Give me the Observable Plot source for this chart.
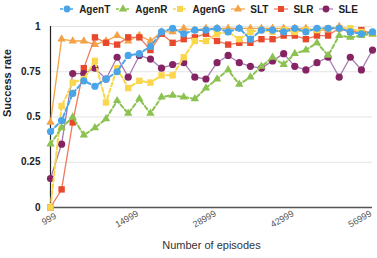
<!DOCTYPE html>
<html>
<head>
<meta charset="utf-8">
<script src="https://cdn.jsdelivr.net/npm/d3@7"></script>
<script src="https://cdn.jsdelivr.net/npm/@observablehq/plot@0.6"></script>
<style>
  body { margin: 0; background: #fff; font-family: "Liberation Sans", Arial, sans-serif; }
  #wrap { width: 377px; height: 258px; overflow: hidden; background: #fff; }
  #legend { width: 377px; height: 18px; box-sizing: border-box; padding-left: 40px;
            display: flex; justify-content: center; align-items: center; gap: 5px; }
  .item { display: flex; align-items: center; height: 16px; font-weight: bold; font-size: 10px; color: #222; }
  .item svg { margin-right: 4px; }
</style>
</head>
<body>
<div id="wrap">
  <div id="legend"></div>
  <div id="chart"></div>
</div>
<script>
// Training episodes at which success rate was measured
const episodes = [999, 2999, 4999, 6999, 8999, 10999, 12999, 14999, 16999, 18999,
                  20999, 22999, 24999, 26999, 28999, 30999, 32999, 34999, 36999, 38999,
                  40999, 42999, 44999, 46999, 48999, 50999, 52999, 54999, 56999, 58999];

const agenT = [0.42, 0.48, 0.63, 0.70, 0.67, 0.71, 0.75, 0.84, 0.85, 0.89,
               0.97, 0.99, 0.96, 0.98, 0.98, 0.99, 0.97, 0.99, 0.93, 0.98,
               0.98, 0.97, 0.99, 0.97, 0.99, 0.99, 0.99, 0.97, 0.96, 0.97];
const agenR = [0.35, 0.44, 0.50, 0.40, 0.44, 0.49, 0.59, 0.52, 0.60, 0.52,
               0.61, 0.62, 0.61, 0.60, 0.66, 0.71, 0.76, 0.68, 0.72, 0.78,
               0.83, 0.79, 0.85, 0.87, 0.91, 0.84, 0.95, 0.94, 0.95, 0.96];
const agenG = [0.00, 0.56, 0.69, 0.71, 0.81, 0.58, 0.77, 0.66, 0.70, 0.69,
               0.73, 0.73, 0.83, 0.92, 0.92, 0.96, 0.97, 0.93, 0.97, 0.98,
               0.97, 0.98, 0.97, 0.98, 0.98, 0.99, 0.99, 0.99, 0.97, 0.96];
const slT   = [0.47, 0.93, 0.92, 0.92, 0.90, 0.92, 0.95, 0.92, 0.95, 0.92,
               0.97, 0.97, 0.99, 0.98, 0.99, 0.99, 0.99, 0.99, 0.99, 0.99,
               0.99, 0.99, 0.99, 0.99, 0.98, 0.98, 1.00, 0.98, 0.97, 0.96];
const slR   = [0.00, 0.10, 0.47, 0.77, 0.94, 0.91, 0.90, 0.94, 0.94, 0.87,
               0.96, 0.91, 0.93, 0.94, 0.96, 0.92, 0.90, 0.91, 0.91, 0.93,
               0.93, 0.95, 0.95, 0.93, 0.95, 0.95, 0.99, 0.97, 0.98, 0.96];
const slE   = [0.16, 0.35, 0.74, 0.74, 0.77, 0.71, 0.83, 0.72, 0.84, 0.82,
               0.77, 0.79, 0.80, 0.72, 0.71, 0.80, 0.84, 0.80, 0.78, 0.77,
               0.81, 0.85, 0.78, 0.76, 0.80, 0.83, 0.72, 0.83, 0.76, 0.87];

const seriesNames = ["AgenT", "AgenR", "AgenG", "SLT", "SLR", "SLE"];
const xTicks = [999, 14999, 28999, 42999, 56999];
const yTicks = [0, 0.25, 0.5, 0.75, 1];

// Visual style per series
const styles = {
  AgenT: {values: agenT, color: "#4aa5e8", symbol: "circle",   dash: "4,2.5", width: 2, r: 3.6},
  AgenR: {values: agenR, color: "#8cc251", symbol: "triangle", dash: "4,2.5", width: 2, r: 3.1},
  AgenG: {values: agenG, color: "#f9d64c", symbol: "square",   dash: "4,2.5", width: 2, r: 3.6},
  SLT:   {values: slT,   color: "#f5a145", symbol: "triangle", dash: null,    width: 1.3, r: 3.1},
  SLR:   {values: slR,   color: "#e8482c", symbol: "square",   dash: null,    width: 1.3, r: 3.6},
  SLE:   {values: slE,   color: "#862463", symbol: "circle",   dash: null,    width: 1.3, r: 3.6}
};
const lineColor = {SLE: "#a67bb6", SLR: "#ee7a5c", SLT: "#f5a145"};

// Legend
const d3Symbols = {circle: d3.symbolCircle, triangle: d3.symbolTriangle, square: d3.symbolSquare};
const legend = d3.select("#legend");
for (const name of seriesNames) {
  const s = styles[name];
  const item = legend.append("div").attr("class", "item");
  const svg = item.append("svg").attr("width", 16).attr("height", 10);
  svg.append("line").attr("x1", 1).attr("x2", 15).attr("y1", 5).attr("y2", 5)
    .attr("stroke", lineColor[name] || s.color).attr("stroke-width", s.dash ? 1.6 : 1.2)
    .attr("stroke-dasharray", s.dash ? "3,2" : null);
  svg.append("path").attr("transform", "translate(8,5)")
    .attr("d", d3.symbol(d3Symbols[s.symbol], s.symbol === "triangle" ? 30 : 36)())
    .attr("fill", s.color);
  item.append("span").text(name);
}

// Long-format table
const drawOrder = ["SLT", "SLR", "SLE", "AgenG", "AgenR", "AgenT"];
const seriesMarks = drawOrder.flatMap(name => {
  const s = styles[name];
  const rows = episodes.map((e, i) => ({episode: e, rate: s.values[i], series: name}));
  return [
    Plot.line(rows, {x: "episode", y: "rate", stroke: lineColor[name] || s.color,
                     strokeWidth: s.width, strokeDasharray: s.dash ?? undefined}),
    Plot.dot(rows, {x: "episode", y: "rate", fill: s.color, symbol: () => s.symbol, r: s.r})
  ];
});

const chart = Plot.plot({
  width: 377,
  height: 240,
  marginTop: 8,
  marginBottom: 51,
  marginLeft: 50,
  marginRight: 5,
  style: {fontFamily: "'Liberation Sans', Arial, sans-serif", fontSize: "10px", color: "#222", background: "#fff"},
  x: {type: "linear", domain: [999, 58999], axis: null},
  y: {domain: [0, 1]},
  symbol: {type: "identity"},
  marks: [
    Plot.ruleY(yTicks.filter(d => d > 0), {stroke: "#e3e3e3", strokeWidth: 1}),
    Plot.axisY(yTicks, {tickSize: 0, tickPadding: 10, fontWeight: "bold", fontSize: 10,
                        tickFormat: d => String(d), label: null, fill: "#222"}),
    Plot.text(xTicks, {x: d => d, frameAnchor: "bottom", dy: 14, rotate: -30,
                       text: d => String(d), fill: "#555", fontSize: 9}),
    Plot.text(["Success rate"], {frameAnchor: "left", dx: -43, rotate: -90,
                                 fontWeight: "bold", fontSize: 11, fill: "#222"}),
    Plot.text(["Number of episodes"], {frameAnchor: "bottom", dy: 41, fontSize: 11, fill: "#333"}),
    Plot.ruleY([0], {stroke: "#555", strokeWidth: 1.5}),
    Plot.ruleX([999], {y1: 0, y2: 1, stroke: "#222", strokeWidth: 1.2}),
    ...seriesMarks
  ]
});
document.getElementById("chart").appendChild(chart);
</script>
</body>
</html>
